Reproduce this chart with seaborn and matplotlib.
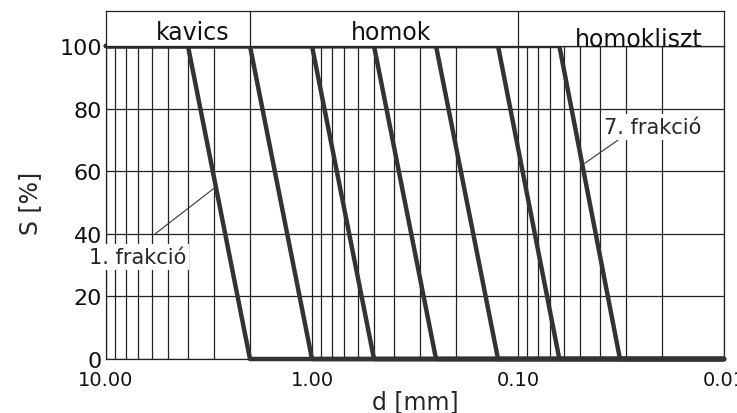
import numpy as np
import pandas as pd
import seaborn as sns
import matplotlib.pyplot as plt
from matplotlib.ticker import LogLocator, NullFormatter

# Fractions: upper and lower grain size [mm]
fractions = ['1', '2', '3', '4', '5', '6', '7']
d_max = [4.0, 2.0, 1.0, 0.5, 0.25, 0.125, 0.063]
d_min = [2.0, 1.0, 0.5, 0.25, 0.125, 0.063, 0.032]

# Axis range and tick labels
d_left, d_right = 10.0, 0.01
x_ticks = [10, 1, 0.1, 0.01]
x_tick_labels = ['10.00', '1.00', '0.10', '0.01']
y_ticks = [0, 20, 40, 60, 80, 100]

# Soil classes in the top band
class_names = ['kavics', 'homok', 'homokliszt']
class_bounds = [2.0, 0.1]

# Build long table: each fraction is 100% above d_max, 0% below d_min
rows = []
for f, hi, lo in zip(fractions, d_max, d_min):
    for d, s in [(d_left, 100), (hi, 100), (lo, 0), (d_right, 0)]:
        rows.append({'fraction': f, 'd': d, 'S': s})
df = pd.DataFrame(rows)

sns.set_style('white')
plt.rcParams['font.family'] = ['DejaVu Sans']

fig = plt.figure(figsize=(7.37, 4.14), dpi=100)
ax = fig.add_axes([0.1438, 0.1304, 0.8386, 0.7561])

sns.lineplot(data=df, x='d', y='S', units='fraction', estimator=None,
             sort=False, color='#333333', linewidth=3.2, ax=ax,
             clip_on=False, zorder=5)

ax.set_xscale('log')
ax.set_xlim(d_left, d_right)
ax.set_ylim(0, 100)
ax.set_xticks(x_ticks)
ax.set_xticklabels(x_tick_labels)
ax.xaxis.set_minor_locator(LogLocator(base=10, subs=np.arange(2, 10)))
ax.xaxis.set_minor_formatter(NullFormatter())
ax.set_yticks(y_ticks)
ax.tick_params(axis='both', which='both', length=0, colors='#111')
ax.tick_params(axis='x', labelsize=14, pad=8)
ax.tick_params(axis='y', labelsize=16, pad=3)

ax.grid(True, axis='x', which='both', color='#222', linewidth=0.9)
ax.grid(True, axis='y', which='major', color='#222', linewidth=0.9)
for sp in ax.spines.values():
    sp.set_color('#222')
    sp.set_linewidth(0.9)

ax.set_xlabel('d [mm]', fontsize=17)
ax.set_ylabel('S [%]', fontsize=17)
ax.xaxis.set_label_coords(0.5, -0.095)
ax.yaxis.set_label_coords(-0.104, 0.5)

# Leader labels for first and last fraction
def point_on(i, s):
    lg = np.log10(d_min[i]) + s / 100 * (np.log10(d_max[i]) - np.log10(d_min[i]))
    return 10 ** lg

box = dict(facecolor='white', edgecolor='none', pad=2)
ax.annotate('', xy=(point_on(0, 55), 55), xytext=(5.9, 39.5),
            arrowprops=dict(arrowstyle='-', color='#333', lw=0.8), zorder=6)
ax.text(7.0, 32.6, '1. frakció', fontsize=15, ha='center', va='center',
        bbox=box, zorder=6)
ax.annotate('', xy=(point_on(6, 62), 62), xytext=(0.0318, 70.5),
            arrowprops=dict(arrowstyle='-', color='#333', lw=0.8), zorder=6)
ax.text(0.0222, 74.1, '7. frakció', fontsize=15, ha='center', va='center',
        bbox=box, zorder=6)

# Top band with soil class names
band = fig.add_axes([0.1438, 0.8865, 0.8386, 0.0845])
band.set_xscale('log')
band.set_xlim(d_left, d_right)
band.set_ylim(0, 1)
band.set_xticks([])
band.set_xticks([], minor=True)
band.set_yticks([])
for sp in band.spines.values():
    sp.set_color('#222')
    sp.set_linewidth(0.9)
for b in class_bounds:
    band.axvline(b, color='#222', linewidth=0.9)
label_x = [3.8, 0.415, 0.0259]
label_y = [0.4, 0.4, 0.2]
for name, xx, yy in zip(class_names, label_x, label_y):
    band.text(xx, yy, name, fontsize=17, ha='center', va='center', color='#111')

fig.savefig('out.png', dpi=100)
